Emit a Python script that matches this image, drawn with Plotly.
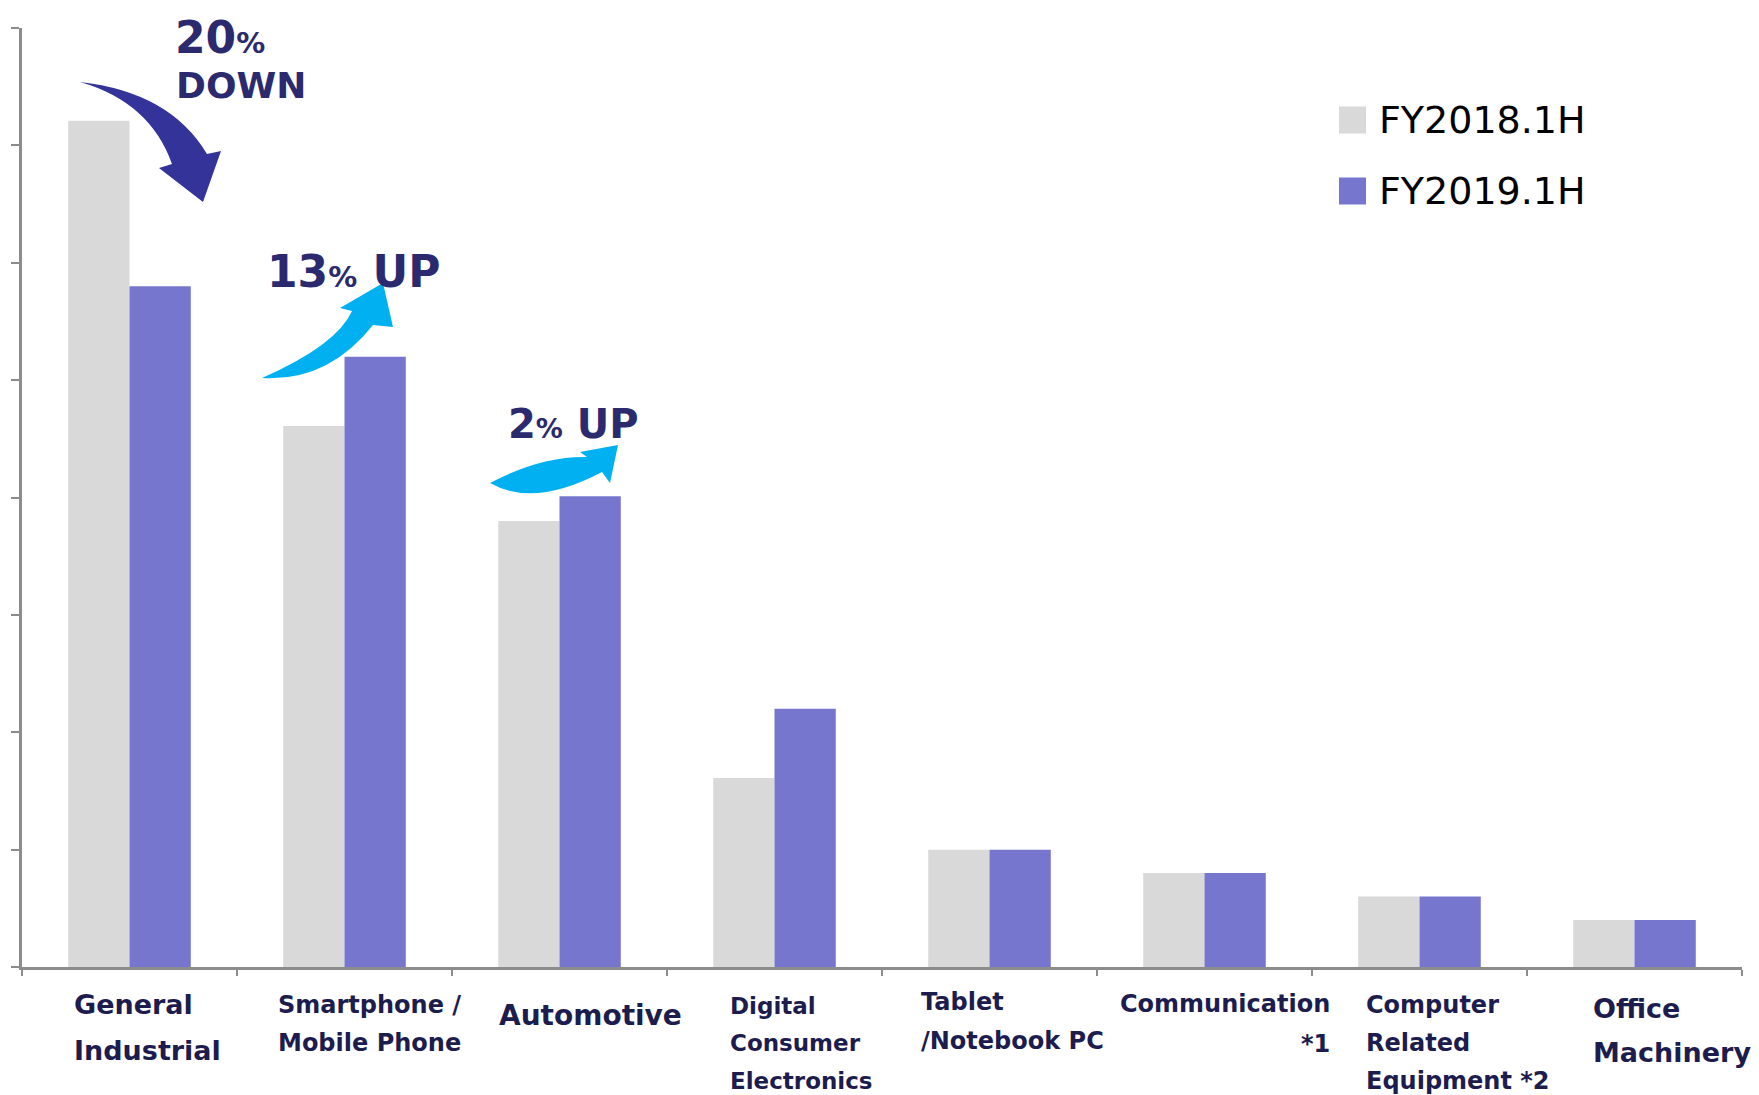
import plotly.graph_objects as go

# ---------------- data ----------------
categories = ["General Industrial", "Smartphone / Mobile Phone", "Automotive",
              "Digital Consumer Electronics", "Tablet /Notebook PC", "Communication *1",
              "Computer Related Equipment *2", "Office Machinery"]
fy2018 = [7.21, 4.61, 3.80, 1.61, 1.00, 0.80, 0.60, 0.40]
fy2019 = [5.80, 5.20, 4.01, 2.20, 1.00, 0.80, 0.60, 0.40]
series_names = ["FY2018.1H", "FY2019.1H"]
label_lines = [["General", "Industrial"], ["Smartphone /", "Mobile Phone"], ["Automotive"],
               ["Digital", "Consumer", "Electronics"], ["Tablet", "/Notebook PC"],
               ["Communication", "*1"], ["Computer", "Related", "Equipment *2"],
               ["Office", "Machinery"]]
y_ticks = [0, 1, 2, 3, 4, 5, 6, 7, 8]

# ---------------- style ----------------
PAGE_W, PAGE_H = 1759, 1095
BODY = 8                      # default page margin around the plot div
W, H = PAGE_W - BODY, PAGE_H - BODY
L, R, T, B = 22, 1742, 28, 967   # plot area in page pixels
GRAY = "#d9d9d9"
PURPLE = "#7676cf"
NAVY = "#2b2a6e"
LABEL = "#1c1c4e"
AXIS = "#8c8c8c"
FONT = "DejaVu Sans"


def px(x):
    return (x - L) / (R - L)


def py(y):
    return (B - y) / (B - T)


fig = go.Figure()
fig.add_trace(go.Bar(x=categories, y=fy2018, name=series_names[0], marker_color=GRAY,
                     marker_line_width=0))
fig.add_trace(go.Bar(x=categories, y=fy2019, name=series_names[1], marker_color=PURPLE,
                     marker_line_width=0))

annotations = []
shapes = []

# category labels (custom placement per label)
label_specs = [
    # x_left, [y centers], size, align
    (72, [1004, 1050], 27, "left"),
    (276, [1005, 1043], 24, "left"),
    (497, [1015], 28, "left"),
    (728, [1006, 1043, 1081], 23, "left"),
    (919, [1002, 1041], 24, "left"),
    (1332, [1004, 1044], 24, "right"),
    (1364, [1005, 1043, 1081], 24, "left"),
    (1591, [1008, 1052], 27, "left"),
]
for lines, (xl, ys, sz, al) in zip(label_lines, label_specs):
    for line, yc in zip(lines, ys):
        annotations.append(dict(
            text="<b>%s</b>" % line, xref="paper", yref="paper",
            x=px(xl), y=py(yc), xanchor=al, yanchor="middle",
            showarrow=False, font=dict(family=FONT, size=sz, color=LABEL)))


# change annotations
def change_text(x, y, big, word, bigsize, pctsize):
    annotations.append(dict(
        text="<b>%s<span style='font-size:%dpx'>%%</span>%s</b>" % (big, pctsize, word),
        xref="paper", yref="paper", x=px(x), y=py(y), xanchor="left", yanchor="middle",
        showarrow=False, font=dict(family=FONT, size=bigsize, color=NAVY)))


change_text(173, 37, "20", "", 44, 29)
annotations.append(dict(text="<b>DOWN</b>", xref="paper", yref="paper", x=px(174), y=py(85),
                        xanchor="left", yanchor="middle", showarrow=False,
                        font=dict(family=FONT, size=36, color=NAVY)))
change_text(265, 271, "13", " UP", 44, 29)
change_text(506, 424, "2", " UP", 40, 27)


# curved block arrows
def arrow_path(tail, c_out, base_out, barb_out, tip, barb_in, base_in, c_in):
    def p(pt):
        return "%.5f,%.5f" % (px(pt[0]), py(pt[1]))
    return ("M %s Q %s %s L %s L %s L %s L %s Q %s %s Z" %
            (p(tail), p(c_out), p(base_out), p(barb_out), p(tip), p(barb_in),
             p(base_in), p(c_in), p(tail)))


shapes.append(dict(type="path", xref="paper", yref="paper", fillcolor="#333399",
                   line=dict(width=0),
                   path=arrow_path((80, 82), (170, 92), (207, 154), (221, 151), (203, 202),
                                   (159, 168), (172, 164), (150, 102))))
shapes.append(dict(type="path", xref="paper", yref="paper", fillcolor="#00b0f0",
                   line=dict(width=0),
                   path=arrow_path((262, 378), (337, 345), (352, 311), (340, 308), (383, 283),
                                   (393, 327), (373, 325), (328, 382))))
shapes.append(dict(type="path", xref="paper", yref="paper", fillcolor="#00b0f0",
                   line=dict(width=0),
                   path=arrow_path((490, 483), (541, 456), (587, 457), (580, 452), (618, 445),
                                   (610, 483), (602, 472), (534, 508))))

# legend (manual)
for name, col, yc in zip(series_names, [GRAY, PURPLE], [120, 191]):
    shapes.append(dict(type="rect", xref="paper", yref="paper",
                       x0=px(1339), x1=px(1366), y0=py(yc - 13.5), y1=py(yc + 13.5),
                       fillcolor=col, line=dict(width=0)))
    annotations.append(dict(text=name, xref="paper", yref="paper", x=px(1377), y=py(yc),
                            xanchor="left", yanchor="middle", showarrow=False,
                            font=dict(family=FONT, size=38, color="#000000")))

fig.update_layout(
    width=W, height=H,
    margin=dict(l=L - BODY, r=PAGE_W - R, t=T - BODY, b=PAGE_H - B, pad=0, autoexpand=False),
    paper_bgcolor="white", plot_bgcolor="white",
    barmode="group", bargap=0.43, bargroupgap=0,
    showlegend=False,
    annotations=annotations, shapes=shapes,
    font=dict(family=FONT),
)
fig.update_xaxes(type="category", range=[-0.5, len(categories) - 0.5], automargin=False,
                 showticklabels=False, showgrid=False, zeroline=False,
                 showline=True, linecolor=AXIS, linewidth=3,
                 ticks="outside", tickson="boundaries", ticklen=6, tickcolor=AXIS, tickwidth=2)
fig.update_yaxes(range=[y_ticks[0], y_ticks[-1]], tickvals=y_ticks, showticklabels=False,
                 automargin=False, showgrid=False, zeroline=False,
                 showline=True, linecolor=AXIS, linewidth=3,
                 ticks="outside", ticklen=8, tickcolor=AXIS, tickwidth=2)

fig.write_html("out.html")
